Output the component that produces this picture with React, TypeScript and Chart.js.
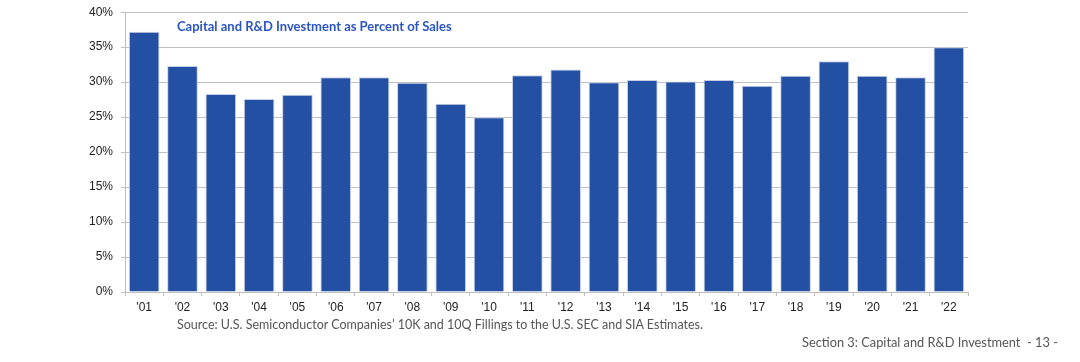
import React, { useEffect, useRef } from "react";
import { Chart, registerables } from "chart.js";

Chart.register(...registerables);

const categories = ["'01", "'02", "'03", "'04", "'05", "'06", "'07", "'08", "'09", "'10", "'11", "'12", "'13", "'14", "'15", "'16", "'17", "'18", "'19", "'20", "'21", "'22"];
const investmentPct = [37.2, 32.3, 28.3, 27.6, 28.2, 30.7, 30.7, 29.9, 26.9, 25.0, 31.0, 31.8, 30.0, 30.3, 30.1, 30.3, 29.5, 30.9, 33.0, 30.9, 30.7, 35.0];
const yTicksMax = 40;
const yTickStep = 5;

const titleText = "Capital and R&D Investment as Percent of Sales";
const sourceText = "Source: U.S. Semiconductor Companies\u2019 10K and 10Q Fillings to the U.S. SEC and SIA Estimates.";
const footerText = "Section 3: Capital and R&D Investment  - 13 -";

export default function App() {
  const ref = useRef<HTMLCanvasElement | null>(null);

  useEffect(() => {
    if (!ref.current) return;
    const chart = new Chart(ref.current, {
      type: "bar",
      data: {
        labels: categories,
        datasets: [
          {
            data: investmentPct,
            backgroundColor: "#2450A4",
            borderColor: "#c5cfe8",
            borderWidth: 1,
            barPercentage: 0.8,
            categoryPercentage: 1,
          },
        ],
      },
      options: {
        animation: false,
        responsive: false,
        maintainAspectRatio: false,
        layout: { padding: { left: 0, right: 112, top: 9, bottom: 0 } },
        plugins: { legend: { display: false }, tooltip: { enabled: false }, title: { display: false } },
        scales: {
          x: {
            grid: { drawOnChartArea: false, drawTicks: true, tickLength: 4, color: "#bfbfbf", offset: true },
            border: { color: "#bfbfbf" },
            ticks: { color: "#222", font: { family: "Liberation Sans", size: 12 }, padding: 4, maxRotation: 0, autoSkip: false },
            afterFit: (s: any) => { s.height = 70; },
          },
          y: {
            min: 0,
            max: yTicksMax,
            grid: { color: "#c0c0c0", tickLength: 4 },
            border: { color: "#bfbfbf" },
            ticks: {
              stepSize: yTickStep,
              color: "#222",
              padding: 8,
              font: { family: "Liberation Sans", size: 12 },
              callback: (v: any) => v + "%",
            },
            afterFit: (s: any) => { s.width = 125; },
          },
        },
      },
    });
    return () => chart.destroy();
  }, []);

  return (
    <div style={{ position: "fixed", left: 0, top: 0, width: 1080, height: 362, background: "#fff", overflow: "hidden" }}>
      <canvas ref={ref} width={1080} height={365} style={{ position: "absolute", left: 0, top: -3 }} />
      <div style={{ position: "absolute", left: 177, top: 18, fontFamily: "Lato, 'Open Sans', sans-serif", fontWeight: 700, fontSize: 13, color: "#2B55C2", whiteSpace: "pre" }}>{titleText}</div>
      <div style={{ position: "absolute", left: 177, top: 317, fontFamily: "Lato, sans-serif", fontSize: 12.5, color: "#555", whiteSpace: "pre" }}>{sourceText}</div>
      <div style={{ position: "absolute", left: 802, top: 334, fontFamily: "Lato, sans-serif", fontSize: 12.8, color: "#555", whiteSpace: "pre" }}>{footerText}</div>
    </div>
  );
}
